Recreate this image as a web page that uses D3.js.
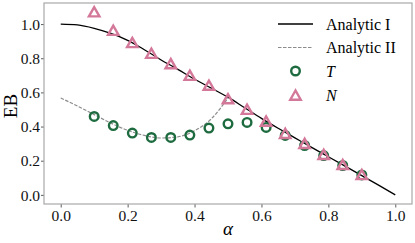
<!DOCTYPE html>
<html><head><meta charset="utf-8">
<script src="https://cdn.jsdelivr.net/npm/d3@7"></script>
<style>body{margin:0;background:#fff}svg{display:block}svg text{font-family:"Liberation Serif","Times New Roman",serif}</style>
</head><body>
<script>
const analyticI_x = [0,0.05,0.1,0.15,0.2,0.25,0.3,0.35,0.4,0.45,0.5,0.55,0.6,0.65,0.7,0.75,0.8,0.85,0.9,0.95,1.0];
const analyticI_y = [1.0,0.995,0.975,0.945,0.905,0.85,0.79,0.735,0.677,0.625,0.572,0.51,0.448,0.39,0.334,0.278,0.223,0.168,0.113,0.057,0.0];
const analyticII_x = [0,0.05,0.1,0.15,0.2,0.25,0.3,0.35,0.4,0.45,0.5];
const analyticII_y = [0.567,0.52,0.47,0.42,0.378,0.348,0.333,0.34,0.375,0.445,0.567];
const alpha = [0.1,0.157,0.214,0.271,0.329,0.386,0.443,0.5,0.557,0.614,0.671,0.729,0.786,0.843,0.9];
const T_vals = [0.459,0.406,0.362,0.336,0.336,0.35,0.391,0.416,0.424,0.395,0.348,0.289,0.23,0.172,0.117];
const N_vals = [1.07,0.962,0.89,0.827,0.766,0.698,0.64,0.561,0.499,0.43,0.358,0.299,0.235,0.176,0.117];
const xTicks = [0.0,0.2,0.4,0.6,0.8,1.0];
const yTicks = [0.0,0.2,0.4,0.6,0.8,1.0];
const legendLabels = ["Analytic I","Analytic II","T","N"];

const W=415,H=243;
const m={l:44,r:3,t:3,b:39};
const green="#1d6b3f", pink="#d4789a";
const FF='"Liberation Serif","Times New Roman",serif';
const svg=d3.select("body").append("svg").attr("width",W).attr("height",H);
const x=d3.scaleLinear().domain([-0.05,1.05]).range([m.l,W-m.r]);
const y=d3.scaleLinear().domain([-0.0535,1.1235]).range([H-m.b,m.t]);

svg.append("clipPath").attr("id","clip").append("rect")
  .attr("x",m.l).attr("y",m.t).attr("width",W-m.l-m.r).attr("height",H-m.t-m.b);

const xa=svg.append("g").attr("transform",`translate(0,${H-m.b})`)
  .call(d3.axisBottom(x).tickValues(xTicks).tickFormat(d3.format(".1f")).tickSize(3.5).tickPadding(2));
const ya=svg.append("g").attr("transform",`translate(${m.l},0)`)
  .call(d3.axisLeft(y).tickValues(yTicks).tickFormat(d3.format(".1f")).tickSize(3).tickPadding(1));
[xa,ya].forEach(a=>{a.select(".domain").remove();
  a.attr("font-family",null).attr("font-size",null);
  a.selectAll("text").style("font-size","15.5px").style("font-family",FF).attr("fill","#111");
  a.selectAll("line").attr("stroke","#333").attr("stroke-width",0.8);});
ya.selectAll("text").attr("dy","0.34em");

const g=svg.append("g").attr("clip-path","url(#clip)");
const line=d3.line().curve(d3.curveMonotoneX);
g.append("path").attr("d",line(analyticII_x.map((d,i)=>[x(d),y(analyticII_y[i])])))
  .attr("fill","none").attr("stroke","#8c8c8c").attr("stroke-width",1.2).attr("stroke-dasharray","3.5,1.5");
g.append("path").attr("d",line(analyticI_x.map((d,i)=>[x(d),y(analyticI_y[i])])))
  .attr("fill","none").attr("stroke","#000").attr("stroke-width",1.3);

g.selectAll("circle.t").data(alpha).join("circle").attr("class","t")
  .attr("cx",d=>x(d)).attr("cy",(d,i)=>y(T_vals[i])).attr("r",4.3)
  .attr("fill","none").attr("stroke",green).attr("stroke-width",2.4);
const tri=(cx,cy,s)=>`M${cx},${cy-s}L${cx-s*1.05},${cy+s*0.85}L${cx+s*1.05},${cy+s*0.85}Z`;
g.selectAll("path.n").data(alpha).join("path").attr("class","n")
  .attr("d",(d,i)=>tri(x(d),y(N_vals[i]),5))
  .attr("fill","none").attr("stroke",pink).attr("stroke-width",2.4);

svg.append("rect").attr("x",m.l).attr("y",m.t).attr("width",W-m.l-m.r).attr("height",H-m.t-m.b)
  .attr("fill","none").attr("stroke","#a8a8a8").attr("stroke-width",1.2);

svg.append("text").attr("x",x(0.5)).attr("y",235).attr("text-anchor","middle")
  .style("font-size","19px").style("font-family",FF).style("font-style","italic").text("α");
svg.append("text").attr("transform",`translate(17,${y(0.52)}) rotate(-90)`).attr("text-anchor","middle")
  .style("font-size","19px").style("font-family",FF).text("EB");

const lg=svg.append("g");
const ly=[24,47.5,71,95.5];
lg.append("line").attr("x1",278).attr("x2",313).attr("y1",ly[0]).attr("y2",ly[0]).attr("stroke","#000").attr("stroke-width",1.3);
lg.append("line").attr("x1",278).attr("x2",313).attr("y1",ly[1]).attr("y2",ly[1]).attr("stroke","#8c8c8c").attr("stroke-width",1.2).attr("stroke-dasharray","3.5,1.5");
lg.append("circle").attr("cx",295.5).attr("cy",ly[2]).attr("r",4.3).attr("fill","none").attr("stroke",green).attr("stroke-width",2.4);
lg.append("path").attr("d",tri(295.5,ly[3],5)).attr("fill","none").attr("stroke",pink).attr("stroke-width",2.4);
legendLabels.forEach((t,i)=>{
  lg.append("text").attr("x",326).attr("y",ly[i]+5.5).style("font-size","16px").style("font-family",FF)
    .style("font-style",i>=2?"italic":"normal").text(t);
});
</script>
</body></html>
